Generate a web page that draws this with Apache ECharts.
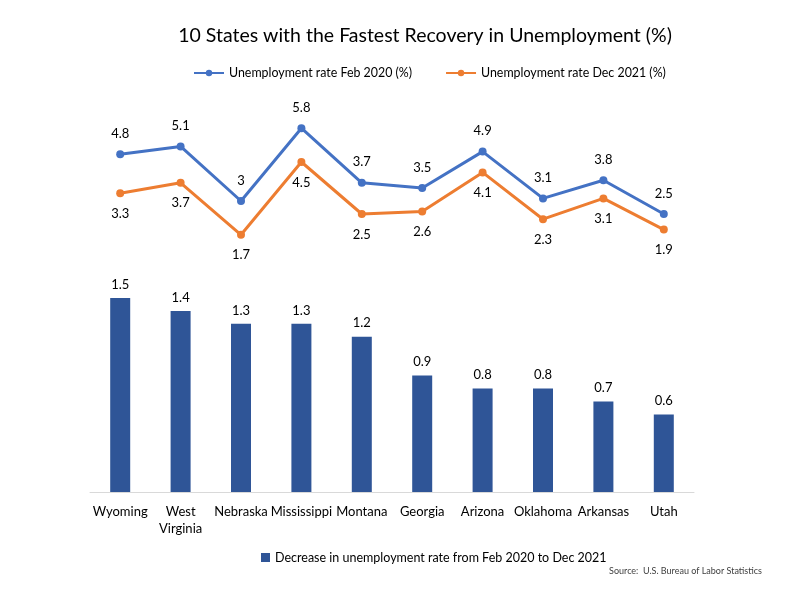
<!DOCTYPE html>
<html><head><meta charset="utf-8">
<script src="https://cdn.jsdelivr.net/npm/echarts@6/dist/echarts.min.js"></script>
<style>html,body{margin:0;padding:0;background:#fff}#c{width:800px;height:600px}</style>
</head><body><div id="c"></div>
<script>
const categories = ['Wyoming','West\nVirginia','Nebraska','Mississippi','Montana','Georgia','Arizona','Oklahoma','Arkansas','Utah'];
const feb2020 = [4.8,5.1,3,5.8,3.7,3.5,4.9,3.1,3.8,2.5];
const dec2021 = [3.3,3.7,1.7,4.5,2.5,2.6,4.1,2.3,3.1,1.9];
const decrease = [1.5,1.4,1.3,1.3,1.2,0.9,0.8,0.8,0.7,0.6];

const font = 'Lato, "Open Sans", sans-serif';
const chart = echarts.init(document.getElementById('c'));
chart.setOption({
  backgroundColor:'#fff',
  textStyle:{fontFamily:font},
  animation:false,
  title:[{text:'10 States with the Fastest Recovery in Unemployment (%)',left:420,top:21,textAlign:'center',
    textStyle:{fontSize:19.5,fontWeight:'normal',color:'#000',fontFamily:font}},
    {text:'Source:  U.S. Bureau of Labor Statistics',right:33,top:562,
    textStyle:{fontSize:9,fontWeight:'normal',color:'#404040',fontFamily:font}}],
  legend:[{data:['Unemployment rate Feb 2020 (%)','Unemployment rate Dec 2021 (%)'],top:62,left:188,
      itemWidth:30,itemHeight:8,itemGap:33,textStyle:{fontSize:12.4,color:'#000',fontFamily:font}},
    {data:['Decrease in unemployment rate from Feb 2020 to Dec 2021'],top:546,left:256,
      icon:'rect',itemWidth:9,itemHeight:9,itemGap:5,textStyle:{fontSize:12.5,color:'#000',fontFamily:font}}],
  grid:[{left:90,right:106,top:123,height:156},{left:90,right:106,top:285,bottom:108}],
  xAxis:[{type:'category',gridIndex:0,data:categories,show:false},
    {type:'category',gridIndex:1,data:categories,axisTick:{show:false},
     axisLine:{lineStyle:{color:'#d9d9d9',width:1}},
     axisLabel:{color:'#000',fontSize:13,margin:11,interval:0,lineHeight:17,fontFamily:font}}],
  yAxis:[{type:'value',gridIndex:0,min:0,max:6,show:false},
    {type:'value',gridIndex:1,min:0,max:1.6,show:false}],
  series:[
    {name:'Unemployment rate Feb 2020 (%)',type:'line',xAxisIndex:0,yAxisIndex:0,data:feb2020,
      color:'#4472C4',lineStyle:{width:3},symbol:'circle',symbolSize:8,
      label:{show:true,position:'top',distance:10,color:'#000',fontSize:13,fontFamily:font}},
    {name:'Unemployment rate Dec 2021 (%)',type:'line',xAxisIndex:0,yAxisIndex:0,data:dec2021,
      color:'#ED7D31',lineStyle:{width:3},symbol:'circle',symbolSize:8,
      label:{show:true,position:'bottom',distance:10,color:'#000',fontSize:13,fontFamily:font}},
    {name:'Decrease in unemployment rate from Feb 2020 to Dec 2021',type:'bar',xAxisIndex:1,yAxisIndex:1,
      data:decrease,color:'#2F5597',barWidth:20,
      label:{show:true,position:'top',distance:7,color:'#000',fontSize:13,fontFamily:font}}
  ]
});
</script></body></html>
